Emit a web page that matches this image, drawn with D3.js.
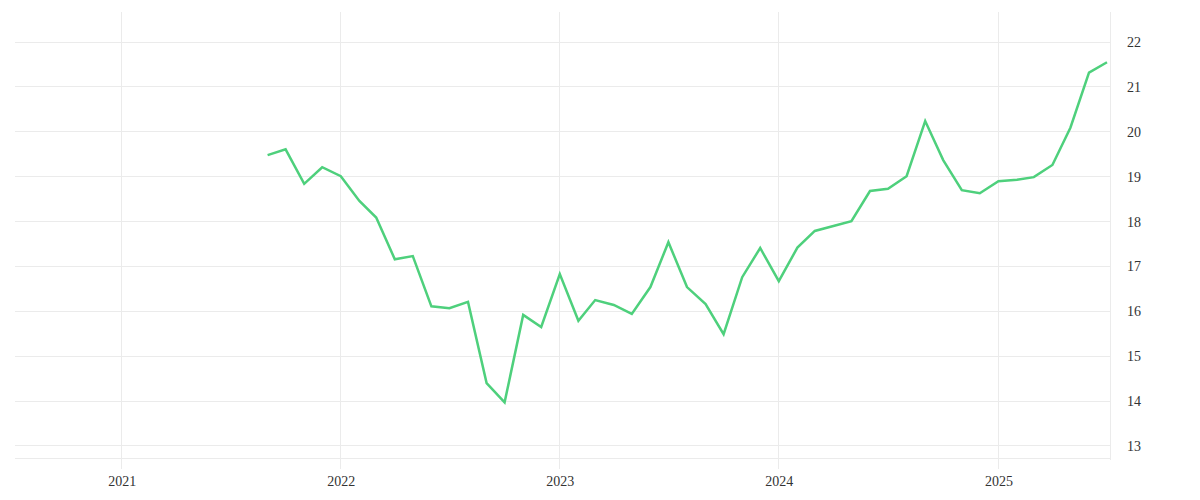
<!DOCTYPE html>
<html>
<head>
<meta charset="utf-8">
<script src="https://cdn.jsdelivr.net/npm/d3@7"></script>
<style>
  html, body { margin: 0; padding: 0; background: #fff; }
  svg { display: block; }
  text { font-family: "Liberation Serif", "DejaVu Serif", serif; }
</style>
</head>
<body>
<svg id="chart" width="1200" height="500"></svg>
<script>
// Monthly series, Sep 2021 – Jul 2025
const startMonth = "2021-09";
const values = [
  19.48, 19.61, 18.84, 19.21,
  19.01, 18.46, 18.09, 17.16, 17.23, 16.11, 16.07, 16.21, 14.40, 13.97, 15.92, 15.65,
  16.83, 15.79, 16.25, 16.14, 15.94, 16.54, 17.54, 16.54, 16.16, 15.49, 16.76, 17.41,
  16.67, 17.42, 17.79, 17.90, 18.01, 18.68, 18.73, 19.01, 20.24, 19.37, 18.70, 18.63,
  18.90, 18.93, 18.99, 19.26, 20.09, 21.32, 21.55
];
const xTickLabels = ["2021", "2022", "2023", "2024", "2025"];
const yTickValues = [13, 14, 15, 16, 17, 18, 19, 20, 21, 22];

(function () {
const parseMonth = d3.timeParse("%Y-%m");
const start = parseMonth(startMonth);
const data = values.map((v, i) => ({ date: d3.timeMonth.offset(start, i), value: v }));

const svg = d3.select("#chart");
const mLeft = 15, mRight = 1110, mTop = 12, mBottom = 458;

const x = d3.scaleTime()
  .domain([new Date(2020, 6, 7), new Date(2025, 6, 6)])
  .range([mLeft, mRight]);
const y = d3.scaleLinear()
  .domain([12.73, 22.67])
  .range([mBottom, mTop]);

const gridColor = "#ebebeb";

// horizontal grid
svg.append("g")
  .selectAll("line")
  .data(yTickValues)
  .join("line")
  .attr("x1", mLeft).attr("x2", mRight)
  .attr("y1", d => y(d)).attr("y2", d => y(d))
  .attr("stroke", gridColor).attr("stroke-width", 1).attr("shape-rendering", "crispEdges");

// bottom border line
svg.append("line")
  .attr("x1", mLeft).attr("x2", mRight)
  .attr("y1", mBottom).attr("y2", mBottom)
  .attr("stroke", gridColor).attr("shape-rendering", "crispEdges");

// vertical grid (years)
const yearDates = xTickLabels.map(s => d3.timeParse("%Y")(s));
svg.append("g")
  .selectAll("line")
  .data(yearDates)
  .join("line")
  .attr("x1", d => x(d)).attr("x2", d => x(d))
  .attr("y1", mTop).attr("y2", mBottom + 11)
  .attr("stroke", gridColor).attr("shape-rendering", "crispEdges");

// right axis line
svg.append("line")
  .attr("x1", mRight).attr("x2", mRight)
  .attr("y1", mTop).attr("y2", mBottom + 2)
  .attr("stroke", gridColor).attr("shape-rendering", "crispEdges");

// x axis labels
const xAxis = d3.axisBottom(x).tickValues(yearDates).tickFormat(d3.timeFormat("%Y")).tickSize(0).tickPadding(0);
const gx = svg.append("g").attr("transform", `translate(0,${mBottom + 18})`).call(xAxis);
gx.select(".domain").remove();
gx.selectAll("text")
  .attr("fill", "#333").attr("font-size", 14)
  .attr("font-family", "'Liberation Serif', 'DejaVu Serif', serif");

// y axis labels (right)
const yAxis = d3.axisRight(y).tickValues(yTickValues).tickSize(0).tickPadding(17);
const gy = svg.append("g").attr("transform", `translate(${mRight},0)`).call(yAxis);
gy.select(".domain").remove();
gy.selectAll("text")
  .attr("fill", "#333").attr("font-size", 14)
  .attr("font-family", "'Liberation Serif', 'DejaVu Serif', serif");

// line
const line = d3.line().x(d => x(d.date)).y(d => y(d.value));
svg.append("path")
  .datum(data)
  .attr("d", line)
  .attr("fill", "none")
  .attr("stroke", "#4ed07c")
  .attr("stroke-width", 2.5)
  .attr("stroke-linejoin", "miter");
})();
</script>
</body>
</html>
